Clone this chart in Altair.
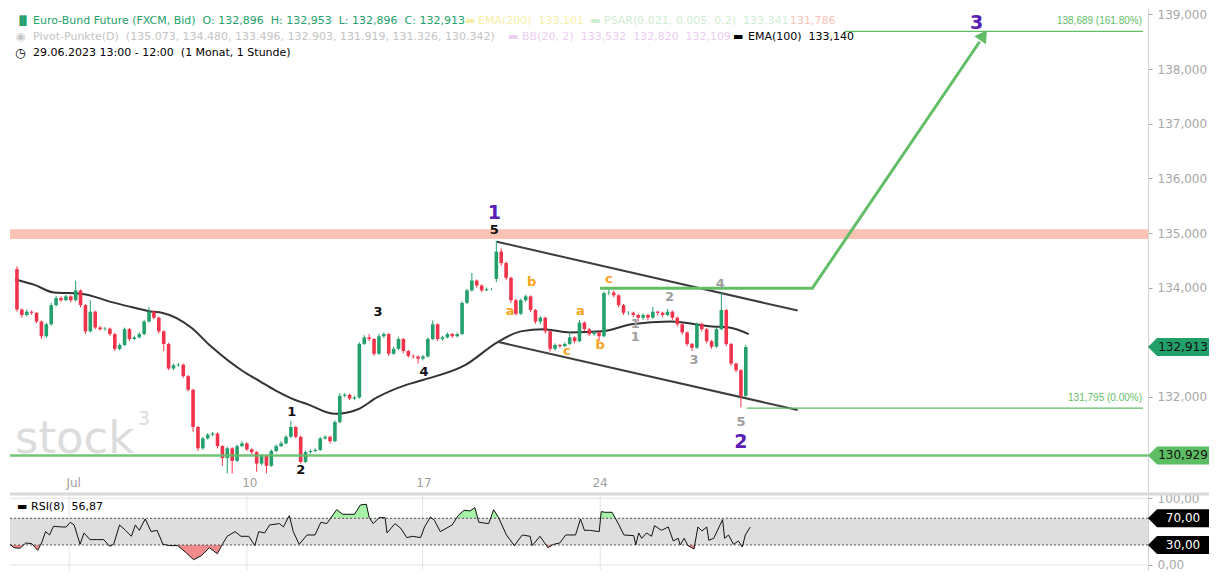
import altair as alt
import pandas as pd

# ---------------- layout constants ----------------
W, H_MAIN, H_RSI = 1138, 484, 76
X_DOM = [-0.4, 230.2]
Y_DOM = [130.26, 139.118]
R_DOM = [-7.5, 106.4]
FONT = "DejaVu Sans"
GREEN = "#23a06c"
RED = "#f2334c"
PURPLE = "#5a1fb4"
ORANGE = "#f5a320"
GRAY = "#9e9e9e"
LINE_GREEN = "#62be66"

# ---------------- data ----------------
first_open = 134.34
gap_open_index = 98
gap_open_value = 134.16

closes = [
    133.60, 133.50, 133.56, 133.54, 133.38, 133.11, 133.33, 133.68, 133.81, 133.77,
    133.84, 133.77, 133.95, 133.68, 133.20, 133.56, 133.27, 133.24, 133.25, 133.15,
    132.88, 132.95, 133.24, 133.06, 133.09, 133.15, 133.38, 133.56, 133.45, 133.20,
    132.97, 132.52, 132.58, 132.59, 132.38, 132.13, 131.45, 131.06, 131.24, 131.31,
    131.33, 131.10, 130.88, 131.06, 130.83, 131.10, 131.15, 131.04, 130.99, 130.78,
    130.92, 130.74, 131.01, 131.10, 131.15, 131.27, 131.45, 131.27, 130.81, 130.99,
    131.01, 131.03, 131.24, 131.27, 131.19, 131.54, 132.02, 132.04, 131.97, 131.99,
    132.97, 133.09, 133.06, 132.79, 133.11, 133.15, 132.79, 132.88, 133.06, 132.84,
    132.75, 132.74, 132.70, 132.74, 133.06, 133.33, 133.06, 133.09, 133.15, 133.11,
    133.15, 133.72, 133.95, 134.13, 134.04, 133.95, 133.97, 133.97, 134.66, 134.45,
    134.18, 133.77, 133.52, 133.77, 133.84, 133.59, 133.38, 133.45, 133.20, 132.88,
    132.95, 132.93, 132.97, 133.09, 133.02, 133.36, 133.24, 133.15, 133.18, 133.11,
    133.90, 133.91, 133.86, 133.68, 133.54, 133.54, 133.50, 133.45, 133.50, 133.45,
    133.56, 133.54, 133.50, 133.56, 133.45, 133.33, 133.18, 132.97, 132.90, 133.33,
    133.24, 133.02, 132.92, 133.24, 133.59, 132.97, 132.61, 132.49, 132.02, 132.913,
]
highs = [
    134.39, 133.62, 133.60, 133.58, 133.55, 133.40, 133.36, 133.72, 133.85, 133.84,
    133.87, 133.86, 134.13, 133.97, 133.70, 133.77, 133.58, 133.30, 133.28, 133.27,
    133.17, 132.98, 133.27, 133.26, 133.12, 133.18, 133.41, 133.65, 133.59, 133.47,
    133.22, 132.99, 132.61, 132.62, 132.61, 132.40, 132.15, 131.47, 131.27, 131.34,
    131.36, 131.35, 131.12, 131.09, 131.08, 131.13, 131.19, 131.17, 131.06, 131.01,
    130.95, 130.94, 131.04, 131.13, 131.19, 131.30, 131.56, 131.47, 131.29, 131.02,
    131.04, 131.06, 131.27, 131.30, 131.29, 131.57, 132.07, 132.07, 132.06, 132.02,
    133.00, 133.13, 133.15, 133.08, 133.15, 133.18, 133.17, 132.92, 133.10, 133.08,
    132.86, 132.78, 132.76, 132.77, 133.09, 133.40, 133.35, 133.12, 133.18, 133.17,
    133.18, 133.75, 133.98, 134.27, 134.15, 134.06, 134.00, 133.99, 134.86, 134.72,
    134.48, 134.20, 133.80, 133.80, 133.87, 133.86, 133.61, 133.48, 133.47, 133.22,
    132.98, 132.97, 133.00, 133.20, 133.11, 133.41, 133.38, 133.26, 133.21, 133.20,
    133.93, 133.98, 133.95, 133.88, 133.70, 133.57, 133.56, 133.52, 133.53, 133.52,
    133.65, 133.58, 133.56, 133.61, 133.58, 133.47, 133.35, 133.20, 132.99, 133.36,
    133.36, 133.26, 133.04, 133.27, 133.91, 133.61, 132.99, 132.63, 132.51, 132.953,
]
lows = [
    133.56, 133.45, 133.47, 133.50, 133.35, 133.06, 133.08, 133.30, 133.65, 133.74,
    133.75, 133.73, 133.75, 133.64, 133.15, 133.18, 133.24, 133.21, 133.21, 133.12,
    132.84, 132.85, 132.93, 133.02, 133.04, 133.07, 133.13, 133.36, 133.42, 133.16,
    132.84, 132.49, 132.49, 132.55, 132.35, 132.10, 131.36, 131.01, 131.03, 131.22,
    131.28, 131.06, 130.74, 130.60, 130.60, 130.81, 131.08, 131.01, 130.95, 130.63,
    130.75, 130.60, 130.72, 130.99, 131.08, 131.13, 131.25, 131.24, 130.78, 130.79,
    130.96, 130.99, 131.01, 131.22, 131.15, 131.17, 131.52, 131.99, 131.94, 131.95,
    131.97, 132.95, 133.02, 132.75, 132.77, 133.08, 132.75, 132.77, 132.86, 132.80,
    132.72, 132.70, 132.61, 132.67, 132.72, 133.04, 133.02, 133.03, 133.07, 133.08,
    133.09, 133.13, 133.70, 133.93, 134.00, 133.92, 133.94, 133.95, 134.10, 134.40,
    134.14, 133.72, 133.49, 133.50, 133.74, 133.55, 133.34, 133.33, 133.16, 132.83,
    132.85, 132.90, 132.91, 132.95, 132.98, 133.00, 133.20, 133.11, 133.12, 133.02,
    133.09, 133.86, 133.82, 133.64, 133.50, 133.50, 133.46, 133.38, 133.41, 133.40,
    133.43, 133.49, 133.46, 133.48, 133.41, 133.29, 133.14, 132.93, 132.84, 132.88,
    133.20, 132.98, 132.88, 132.90, 133.22, 132.93, 132.57, 132.45, 131.81, 132.00,
]

# EMA(100)
ema_x = [-0.4, 3.6, 7.6, 13, 19.6, 23.6, 27.6, 29.6, 35.6, 39.6,
         46.2, 49.6, 53, 56.2, 59.6, 65, 69.6, 73.6, 79.6, 83,
         91.6, 98.2, 103, 107.6, 113, 119.6, 125.6, 133.6, 142.2, 145.6, 149.6]
ema_v = [134.15, 134.05, 133.91, 133.89, 133.73, 133.64, 133.56, 133.54, 133.27, 132.93,
         132.47, 132.29, 132.11, 131.97, 131.86, 131.69, 131.77, 131.99, 132.22, 132.31,
         132.58, 133.00, 133.20, 133.24, 133.18, 133.20, 133.33, 133.38, 133.29, 133.27, 133.15]

# RSI(8)
rsi_x = [-0.4, 0.4, 1.6, 2.8, 4, 5.2, 6, 6.8, 7.6, 8.4,
         10, 11, 11.8, 12.6, 13.8, 14.6, 15.8, 17.4, 18.6, 19.8,
         20.6, 21.8, 23, 24.2, 25, 25.8, 27, 28.2, 29.4, 30.6,
         32, 33.6, 35.2, 36.8, 38.4, 40, 41.6, 42.8, 43.6, 45.2,
         46.4, 48, 49.2, 50, 51.2, 52.2, 54.2, 55, 56.2, 57,
         58.2, 59.8, 61.4, 62.6, 63.8, 65.8, 67, 69.4, 70.6, 71.8,
         72.4, 73.2, 74.4, 75.6, 76, 77.6, 78.8, 80, 81.2, 82.8,
         83.6, 84.8, 85.6, 86.8, 89.2, 90.4, 91.6, 92.8, 93.8, 94.6,
         96.6, 97.6, 98.6, 100.2, 101.8, 103.4, 105, 105.4, 107, 108.6,
         109.8, 111, 112.2, 114.2, 115.2, 116, 117, 119, 119.4, 120.2,
         121.6, 122.2, 123, 124, 126, 126.4, 127, 127.6, 128.6, 129.6,
         130.2, 131.6, 133, 134, 135, 135.4, 136.2, 137, 138.2, 139,
         139.8, 140.8, 141.2, 142.2, 144, 144.4, 145.2, 146.2, 147.2, 148,
         148.6, 149.6]
rsi_v = [31, 26, 25, 33, 32, 22, 33, 50, 45, 58,
         57, 57, 64, 60, 31, 48, 38, 38, 38, 28,
         31, 60, 52, 43, 60, 52, 69, 50, 52, 31,
         29, 29, 19, 8, 14, 26, 17, 33, 43, 50,
         43, 43, 29, 50, 48, 60, 62, 57, 74, 50,
         31, 45, 45, 64, 62, 83, 76, 76, 90, 91,
         71, 62, 71, 71, 48, 62, 55, 41, 43, 41,
         57, 72, 67, 50, 60, 74, 82, 81, 86, 64,
         62, 83, 71, 45, 29, 45, 43, 29, 43, 26,
         31, 33, 45, 45, 69, 52, 52, 50, 80, 79,
         79, 71, 60, 45, 44, 30, 48, 40, 48, 43,
         59, 52, 57, 36, 40, 30, 40, 29, 24, 57,
         51, 57, 37, 40, 68, 40, 45, 31, 36, 27,
         45, 56.87]

# date axis
date_labels = ["Jul", "10", "17", "24"]
date_x = [11.6, 47.6, 83.2, 119.2]
price_ticks = [132, 134, 135, 136, 137, 138, 139]

# drawings
resistance_lo, resistance_hi = 134.89, 135.07
support_level = 130.929
fib_x0 = [149.2, 169.2]
fib_x1 = [230.2, 230.2]
fib_price = [131.795, 138.689]
fib_text = ["131,795 (0.00%)", "138,689 (161.80%)"]
arrow_x = [119.2, 162.6, 196.8]
arrow_p = [133.99, 133.99, 138.50]
arrow_head_x, arrow_head_p = 197.6, 138.62
chan_line = ["u", "u", "l", "l"]
chan_x = [98.1, 159.6, 98.2, 159.6]
chan_p = [134.84, 133.58, 133.01, 131.76]

big_x = [97.6, 196.2, 148]
big_p = [135.36, 138.85, 131.17]
big_t = ["1", "3", "2"]
blk_x = [97.6, 56.2, 58, 73.8, 83.2]
blk_p = [135.05, 131.72, 130.67, 133.56, 132.45]
blk_t = ["5", "1", "2", "3", "4"]
org_x = [100.8, 105.2, 112.4, 115.2, 119.2, 121.0]
org_p = [133.57, 134.11, 132.84, 133.57, 132.95, 134.16]
org_t = ["a", "b", "c", "a", "b", "c"]
gry_x = [126.4, 126.4, 133.4, 138.4, 143.8, 148]
gry_p = [133.33, 133.09, 133.82, 132.67, 134.06, 131.54]
gry_t = ["1", "1", "2", "3", "4", "5"]

box_price = [132.913, 130.929]
box_text = ["132,913", "130,929"]
box_fill = ["#22a06b", "#5dbd62"]
rsi_box_val = [70, 30]
rsi_box_text = ["70,00", "30,00"]

# ---------------- tables ----------------
opens = [first_open] + closes[:-1]
opens[gap_open_index] = gap_open_value
candles = pd.DataFrame({"i": list(range(len(closes))), "open": opens,
                        "high": highs, "low": lows, "close": closes})
ema = pd.DataFrame({"x": ema_x, "v": ema_v})
rsi = pd.DataFrame({"x": rsi_x, "v": rsi_v})
dates = pd.DataFrame({"x": date_x, "t": date_labels, "p": [130.42] * 4})
fib = pd.DataFrame({"x0": fib_x0, "x1": fib_x1, "p": fib_price, "t": fib_text})
arrow = pd.DataFrame({"x": arrow_x, "p": arrow_p, "o": [0, 1, 2]})
chan = pd.DataFrame({"line": chan_line, "x": chan_x, "p": chan_p})
HB = 9 * (Y_DOM[1] - Y_DOM[0]) / H_MAIN
boxes = pd.DataFrame({"p": box_price, "t": box_text, "c": box_fill,
                      "top": [v + HB for v in box_price], "bot": [v - HB for v in box_price]})
RB = 9 * (R_DOM[1] - R_DOM[0]) / H_RSI
rboxes = pd.DataFrame({"p": rsi_box_val, "t": rsi_box_text,
                       "top": [v + RB for v in rsi_box_val], "bot": [v - RB for v in rsi_box_val]})
one = pd.DataFrame({"k": [0]})

# ---------------- scales / axes ----------------
xs = alt.Scale(domain=X_DOM, nice=False, zero=False)
ys = alt.Scale(domain=Y_DOM, nice=False, zero=False)
rs = alt.Scale(domain=R_DOM, nice=False, zero=False)

yax = alt.Axis(orient="right", values=price_ticks, title=None, grid=False,
               labelExpr="replace(format(datum.value, '.3f'), '.', ',')",
               domainColor="#d2d2d2", tickColor="#a8a8a8", tickSize=4,
               labelColor="#a8a8a8", labelFont=FONT, labelFontSize=12, labelPadding=5)
rax = alt.Axis(orient="right", values=[0, 100], title=None, grid=False,
               labelExpr="replace(format(datum.value, '.2f'), '.', ',')",
               domainColor="#d2d2d2", tickColor="#a8a8a8", tickSize=4,
               labelColor="#a8a8a8", labelFont=FONT, labelFontSize=12, labelPadding=5)


def X(f):
    return alt.X(f, type="quantitative", scale=xs, axis=None)


def Y(f):
    return alt.Y(f, type="quantitative", scale=ys, axis=yax)


def RX(f):
    return alt.X(f, type="quantitative", scale=xs, axis=None)


def RY(f):
    return alt.Y(f, type="quantitative", scale=rs, axis=rax)


def txt(text, x, y, color, size=11, align="left", weight="normal", font=FONT, baseline="middle"):
    return alt.Chart(one).mark_text(align=align, baseline=baseline, font=font, fontSize=size,
                                    fontWeight=weight, color=color).encode(
        x=alt.value(x), y=alt.value(y), text=alt.value(text))


# ---------------- main panel ----------------
layers = []
layers.append(txt("stock", 5, 445, "#dcdcdc", size=45, baseline="alphabetic"))
layers.append(txt("3", 128, 417, "#dcdcdc", size=19, baseline="alphabetic"))

band_df = pd.DataFrame({"hi": [resistance_hi], "lo": [resistance_lo]})
layers.append(alt.Chart(band_df).mark_rect(color="#fcc2b4").encode(
    x=alt.value(0), x2=alt.value(W), y=Y("hi"), y2="lo"))

layers.append(alt.Chart(ema).mark_line(color="#333333", strokeWidth=2, interpolate="monotone").encode(
    x=X("x"), y=Y("v")))

layers.append(alt.Chart(chan).mark_line(color="#3d3d3d", strokeWidth=2).encode(
    x=X("x"), y=Y("p"), detail="line:N"))

dir_color = alt.condition("datum.close >= datum.open", alt.value(GREEN), alt.value(RED))
layers.append(alt.Chart(candles).mark_rule(strokeWidth=1).encode(
    x=X("i"), y=Y("low"), y2="high", color=dir_color))
layers.append(alt.Chart(candles).mark_bar(size=3.6).encode(
    x=X("i"), y=Y("open"), y2="close", color=dir_color))

sup_df = pd.DataFrame({"p": [support_level]})
layers.append(alt.Chart(sup_df).mark_rule(color=LINE_GREEN, strokeWidth=2.5, opacity=0.9).encode(y=Y("p")))

layers.append(alt.Chart(fib).mark_rule(color=LINE_GREEN, strokeWidth=1.2).encode(
    x=X("x0"), x2="x1", y=Y("p")))
layers.append(alt.Chart(fib).mark_text(align="right", baseline="middle", dy=-10, font="Liberation Sans",
                                       fontSize=10, color=LINE_GREEN).encode(
    x=alt.value(W - 6), y=Y("p"), text="t:N"))

layers.append(alt.Chart(arrow).mark_line(color=LINE_GREEN, strokeWidth=3).encode(
    x=X("x"), y=Y("p"), order="o:Q"))
head_df = pd.DataFrame({"x": [arrow_head_x], "p": [arrow_head_p]})
layers.append(alt.Chart(head_df).mark_point(shape="triangle-up", filled=True, size=200, angle=34,
                                            color=LINE_GREEN, opacity=1).encode(x=X("x"), y=Y("p")))


def wave(xv, pv, tv, color, size, weight="bold"):
    df = pd.DataFrame({"x": xv, "p": pv, "t": tv})
    return alt.Chart(df).mark_text(font=FONT, fontSize=size, fontWeight=weight, color=color,
                                   baseline="middle", align="center").encode(
        x=X("x"), y=Y("p"), text="t:N")


layers.append(wave(gry_x, gry_p, gry_t, GRAY, 13))
layers.append(wave(org_x, org_p, org_t, ORANGE, 13))
layers.append(wave(blk_x, blk_p, blk_t, "#111111", 13))
layers.append(wave(big_x, big_p, big_t, PURPLE, 19))

layers.append(alt.Chart(dates).mark_text(font=FONT, fontSize=12, color="#a0a0a0", baseline="middle").encode(
    x=X("x"), y=Y("p"), text="t:N"))

# header legend
nb = "\u00a0\u00a0"
layers.append(txt("Euro-Bund Future (FXCM, Bid)" + nb + "O: 132,896" + nb + "H: 132,953" + nb +
                  "L: 132,896" + nb + "C: 132,913", 23, 13, GREEN))
layers.append(txt("\u2590\u258c", 6, 13, GREEN, size=9))
layers.append(txt("\u25ac", 455, 13, "#f7efa8"))
layers.append(txt("EMA(200)" + nb + "133,101", 468, 13, "#f7efa8"))
layers.append(txt("\u25ac", 580, 13, "#cfeed2"))
layers.append(txt("PSAR(0.021, 0.005, 0.2)" + nb + "133,341", 594, 13, "#cfeed2"))
layers.append(txt("131,786", 780, 13, "#f8c4b6"))
layers.append(txt("\u25c9", 6, 29, "#c4c4c4"))
layers.append(txt("Pivot-Punkte(D)" + nb + "(135.073, 134.480, 133.496, 132.903, 131.919, 131.326, 130.342)",
                  23, 29, "#c4c4c4"))
layers.append(txt("\u25ac", 498, 29, "#eccdf2"))
layers.append(txt("BB(20, 2)" + nb + "133,532" + nb + "132,820" + nb + "132,109", 512, 29, "#eccdf2"))
layers.append(txt("\u25ac", 723, 29, "#000000"))
layers.append(txt("EMA(100)" + nb + "133,140", 738, 29, "#000000"))
layers.append(txt("\u25f7", 5, 45, "#000000", size=12))
layers.append(txt("29.06.2023 13:00 - 12:00" + nb + "(1 Monat, 1 Stunde)", 23, 45, "#000000"))

# price tags on the right
layers.append(alt.Chart(boxes).mark_rect().encode(
    x=alt.value(W + 9), x2=alt.value(W + 61), y=Y("top"), y2="bot", color=alt.Color("c:N", scale=None)))
layers.append(alt.Chart(boxes).mark_point(shape="M -1 0 L 0 -1 L 0 1 Z", filled=True, size=324, opacity=1).encode(
    x=alt.value(W + 9), y=Y("p"), color=alt.Color("c:N", scale=None)))
layers.append(alt.Chart(boxes).mark_text(font=FONT, fontSize=12, color="#101010", align="center",
                                         baseline="middle").encode(
    x=alt.value(W + 35), y=Y("p"), text="t:N"))

main = alt.layer(*layers).properties(width=W, height=H_MAIN)

# ---------------- RSI panel ----------------
grid_df = pd.DataFrame({"x": date_x})
lvl_df = pd.DataFrame({"lv": [100, 0]})
dot_df = pd.DataFrame({"lv": [70, 30]})
zone_df = pd.DataFrame({"a": [70], "b": [30]})

r = []
r.append(alt.Chart(grid_df).mark_rule(color="#e4e4e4", strokeWidth=1).encode(x=RX("x")))
r.append(alt.Chart(lvl_df).mark_rule(color="#e2e2e2", strokeWidth=1).encode(y=RY("lv")))
r.append(alt.Chart(rsi).transform_calculate(bot="min(datum.v, 70)", lv="30").mark_area(
    color="#f28b8b", opacity=1).encode(x=RX("x"), y=RY("bot"), y2="lv:Q"))
r.append(alt.Chart(rsi).transform_calculate(top="max(datum.v, 30)", lv="70").mark_area(
    color="#a6f2a6", opacity=1).encode(x=RX("x"), y=RY("top"), y2="lv:Q"))
r.append(alt.Chart(zone_df).mark_rect(color="#dedede").encode(
    x=alt.value(0), x2=alt.value(W), y=RY("a"), y2="b"))
r.append(alt.Chart(dot_df).mark_rule(color="#555555", strokeWidth=1, strokeDash=[2, 2]).encode(y=RY("lv")))
r.append(alt.Chart(rsi).mark_line(color="#111111", strokeWidth=1).encode(x=RX("x"), y=RY("v")))
r.append(alt.Chart(one).mark_rule(color="#d9d9d9", strokeWidth=3).encode(
    x=alt.value(0), x2=alt.value(W + 61), y=alt.value(0)))
r.append(txt("\u25ac", 7, 13, "#000000"))
r.append(txt("RSI(8)" + nb + "56,87", 21, 13, "#000000"))
r.append(alt.Chart(rboxes).mark_rect(color="#000000").encode(
    x=alt.value(W + 9), x2=alt.value(W + 61), y=RY("top"), y2="bot"))
r.append(alt.Chart(rboxes).mark_point(shape="M -1 0 L 0 -1 L 0 1 Z", filled=True, size=324, opacity=1,
                                      color="#000000").encode(x=alt.value(W + 9), y=RY("p")))
r.append(alt.Chart(rboxes).mark_text(font=FONT, fontSize=12, color="#ffffff", align="center",
                                     baseline="middle").encode(
    x=alt.value(W + 35), y=RY("p"), text="t:N"))

rsi_panel = alt.layer(*r).properties(width=W, height=H_RSI)

chart = alt.vconcat(main, rsi_panel, spacing=0).properties(
    padding={"left": 0, "right": 0, "top": 0, "bottom": 0}
).configure_view(stroke=None)

chart.save("out.html", embed_options={"renderer": "svg", "actions": False})
